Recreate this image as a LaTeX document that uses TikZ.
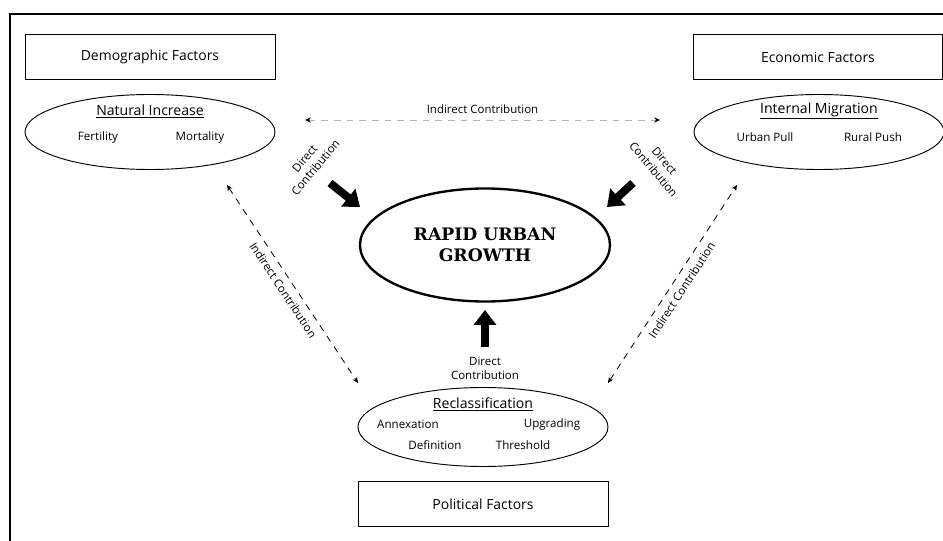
\documentclass[tikz,border=0pt]{standalone}
\usepackage{fontspec}
\setmainfont{Open Sans}
\newfontfamily\slabfont{DejaVu Serif}
\usetikzlibrary{positioning, arrows.meta, shapes.geometric}

\begin{document}
\begin{tikzpicture}[x=0.03cm, y=-0.03cm,
	factor/.style={draw, line width=0.8pt, rectangle, minimum width=7.5cm, minimum height=1.35cm, font=\fontsize{11.9}{14}\selectfont},
	cause/.style={draw, line width=0.8pt, ellipse, minimum width=7.5cm, inner sep=0pt},
	title/.style={font=\fontsize{12}{14}\selectfont},
	item/.style={font=\fontsize{9.9}{12}\selectfont},
	contrib/.style={font=\fontsize{9.8}{12}\selectfont, align=center},
	bigarrow/.style={line width=0.24cm, -{Triangle[length=0.45cm, width=0.66cm]}},
	indirect/.style={line width=0.7pt, dash pattern=on 0.2cm off 0.18cm, <->, >={Stealth[length=5pt, width=4.5pt, color=black]}}]
		
		\useasboundingbox (0,0) rectangle (943,541);
		\draw[line width=0.9pt] (10,541) -- (10,14) -- (943,14);
		
		\node[factor] (demo) at (150,57) {Demographic Factors};
		\node[factor, minimum width=7.47cm] (econ) at (818,57) {Economic Factors};
		\node[factor] (poli) at (483,504) {Political Factors};
		
		\node[cause, minimum height=2.25cm] (natinc) at (150,132) {};
		\node[title] (natinc-title) at (150,111) {\underline{Natural Increase}};
		\node[item] (fert) at (98,137) {Fertility};
		\node[item] (mort) at (200,137) {Mortality};
		
		\node[cause, minimum height=2.25cm] (intmig) at (819,132) {};
		\node[title] (intmig-title) at (819,111) {\underline{Internal Migration}};
		\node[item] (pull) at (765,137) {Urban Pull};
		\node[item] (push) at (873,137) {Rural Push};
		
		\node[cause, minimum height=2.37cm] (reclass) at (483,427) {};
		\node[title] (reclass-title) at (483,404) {\underline{Reclassification}};
		\node[item] (annex) at (408,424) {Annexation};
		\node[item] (upgr) at (552,424) {Upgrading};
		\node[item] (defn) at (435,445) {Definition};
		\node[item] (thres) at (523,445) {Threshold};
		
		\node[cause, line width=2pt, minimum height=3.39cm, align=center, font=\slabfont\bfseries\fontsize{14.7}{17.5}\selectfont] (growth) at (485,245) {RAPID URBAN\\GROWTH};
		
		\coordinate (top-left) at (305,120);
		\coordinate (top-right) at (660,120);
		\coordinate (nat-end) at (227,185);
		\coordinate (rec-left) at (358,383);
		\coordinate (rec-right) at (608,383);
		\coordinate (mig-end) at (737,185);
		\draw[indirect, draw=gray!60] (top-left) -- (top-right) node[midway, above=2pt, contrib, text=black] (top-lab) {Indirect Contribution};
		\draw[indirect] (nat-end) -- (rec-left) node[midway, sloped, below=2pt, contrib] (left-lab) {Indirect Contribution};
		\draw[indirect] (rec-right) -- (mig-end) node[midway, sloped, below=2pt, contrib] (right-lab) {Indirect Contribution};
		
		\coordinate (dl-tail) at (330,183);
		\coordinate (dl-tip) at (360,207);
		\coordinate (dr-tail) at (633,183);
		\coordinate (dr-tip) at (607,207);
		\coordinate (db-tail) at (485,347);
		\coordinate (db-tip) at (485,310);
		\draw[bigarrow] (dl-tail) -- (dl-tip);
		\draw[bigarrow] (dr-tail) -- (dr-tip);
		\draw[bigarrow] (db-tail) -- (db-tip);
		\node[contrib, rotate=50] (dl-lab) at (310,163) {Direct\\Contribution};
		\node[contrib, rotate=-50] (dr-lab) at (659,165) {Direct\\Contribution};
		\node[contrib] (db-lab) at (485,368) {Direct\\Contribution};
		
		\end{tikzpicture}
\end{document}
